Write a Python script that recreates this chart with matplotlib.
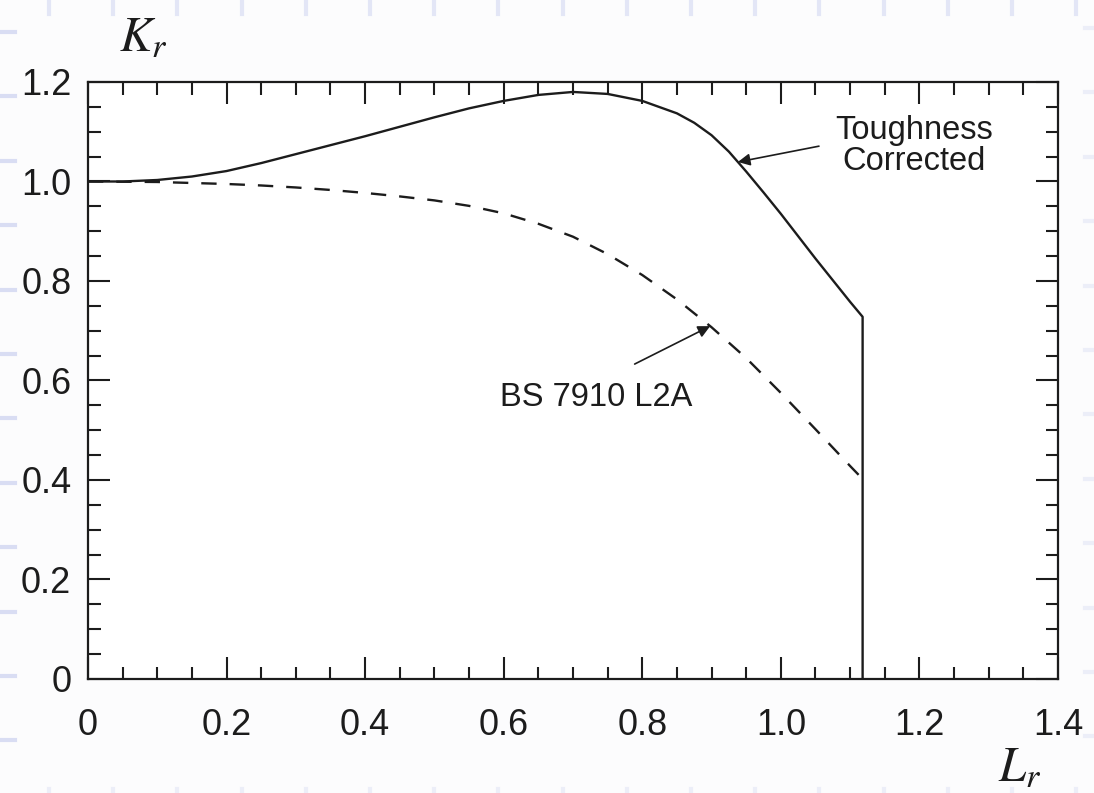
import numpy as np
import matplotlib
matplotlib.use("Agg")
import matplotlib.pyplot as plt
from matplotlib.lines import Line2D

plt.rcParams["font.family"] = ["Liberation Sans", "DejaVu Sans"]
plt.rcParams["mathtext.fontset"] = "stix"

# Failure assessment curves (Lr, Kr)
lr_bs = [0.0, 0.1, 0.2, 0.25, 0.3, 0.35, 0.4, 0.45, 0.5, 0.55, 0.6, 0.65,
         0.7, 0.75, 0.8, 0.85, 0.9, 0.95, 1.0, 1.05, 1.1, 1.118]
kr_bs = [1.0, 0.999, 0.995, 0.992, 0.988, 0.983, 0.977, 0.97, 0.962, 0.951,
         0.936, 0.915, 0.889, 0.854, 0.812, 0.763, 0.707, 0.645, 0.575, 0.502,
         0.428, 0.402]

lr_tc = [0.0, 0.05, 0.1, 0.15, 0.2, 0.25, 0.3, 0.35, 0.4, 0.45, 0.5, 0.55,
         0.6, 0.65, 0.7, 0.75, 0.8, 0.85, 0.875, 0.9, 0.925, 0.95, 0.975,
         1.0, 1.05, 1.1, 1.118, 1.118]
kr_tc = [1.0, 1.0, 1.003, 1.01, 1.021, 1.037, 1.055, 1.073, 1.091, 1.11,
         1.129, 1.147, 1.162, 1.174, 1.18, 1.176, 1.162, 1.137, 1.118, 1.093,
         1.06, 1.02, 0.978, 0.935, 0.845, 0.758, 0.728, 0.0]

x_ticks = [0.0, 0.2, 0.4, 0.6, 0.8, 1.0, 1.2, 1.4]
x_labels = ["0", "0.2", "0.4", "0.6", "0.8", "1.0", "1.2", "1.4"]
y_ticks = [0.0, 0.2, 0.4, 0.6, 0.8, 1.0, 1.2]
y_labels = ["0", "0.2", "0.4", "0.6", "0.8", "1.0", "1.2"]

ink = "#1c1c1c"

fig = plt.figure(figsize=(10.94, 7.93), dpi=100, facecolor="#fcfcfd")
ax = fig.add_axes([0.0804, 0.1438, 0.8867, 0.7528])
ax.set_facecolor("white")

ax.plot(lr_tc, kr_tc, color=ink, lw=1.7, solid_joinstyle="round")
ax.plot(lr_bs, kr_bs, color=ink, lw=1.7, dashes=(6.5, 5.5))

ax.set_xlim(0, 1.4)
ax.set_ylim(0, 1.2)
ax.set_xticks(x_ticks)
ax.set_xticklabels(x_labels)
ax.set_yticks(y_ticks)
ax.set_yticklabels(y_labels)
ax.set_xticks(np.arange(0, 1.401, 0.05), minor=True)
ax.set_yticks(np.arange(0, 1.201, 0.05), minor=True)

ax.tick_params(which="both", direction="in", top=True, right=True,
               color=ink, width=1.5)
ax.tick_params(which="major", length=16, labelsize=26, labelcolor=ink)
ax.tick_params(axis="x", which="major", pad=21)
ax.tick_params(axis="y", which="major", pad=12)
ax.tick_params(which="minor", length=9)
for sp in ax.spines.values():
    sp.set_linewidth(1.6)
    sp.set_color(ink)

# annotations
arrow = dict(arrowstyle="-|>", lw=1.2, color=ink, mutation_scale=18,
             shrinkA=0, shrinkB=0)
tip_tc = 0.938
ax.annotate("", xy=(tip_tc, np.interp(tip_tc, lr_tc[:-1], kr_tc[:-1])),
            xytext=(1.055, 1.071), arrowprops=arrow)
ax.text(1.192, 1.072, "Toughness\nCorrected", ha="center", va="center",
        fontsize=23.5, color=ink, linespacing=1.0)

tip_bs = 0.898
ax.annotate("", xy=(tip_bs, np.interp(tip_bs, lr_bs, kr_bs)),
            xytext=(0.789, 0.633), arrowprops=arrow)
ax.text(0.733, 0.549, "BS 7910 L2A", ha="center", va="baseline",
        fontsize=23.5, color=ink)

fig.text(0.131, 0.951, r"$K_r$", fontsize=35, ha="center", va="center",
         color=ink)
fig.text(0.932, 0.031, r"$L_r$", fontsize=35, ha="center", va="center",
         color=ink)

# faint slide background marks
mark = "#d9ddf3"
for k in range(12):
    y = 1 - (32 + 64.4 * k) / 793
    if y > 0.01:
        fig.add_artist(Line2D([0, 15 / 1094], [y, y], color=mark, lw=3))
        fig.add_artist(Line2D([1085 / 1094, 1], [y + 0.005, y + 0.005],
                              color="#eceef8", lw=3))
for k in range(17):
    x = (49 + 64.2 * k) / 1094
    if x < 0.99:
        fig.add_artist(Line2D([x, x], [1, 1 - 14 / 793], color="#e3e6f6", lw=3))
        fig.add_artist(Line2D([x, x], [0, 4 / 793], color="#eceef8", lw=3))

fig.savefig("out.png", dpi=100, facecolor=fig.get_facecolor())
